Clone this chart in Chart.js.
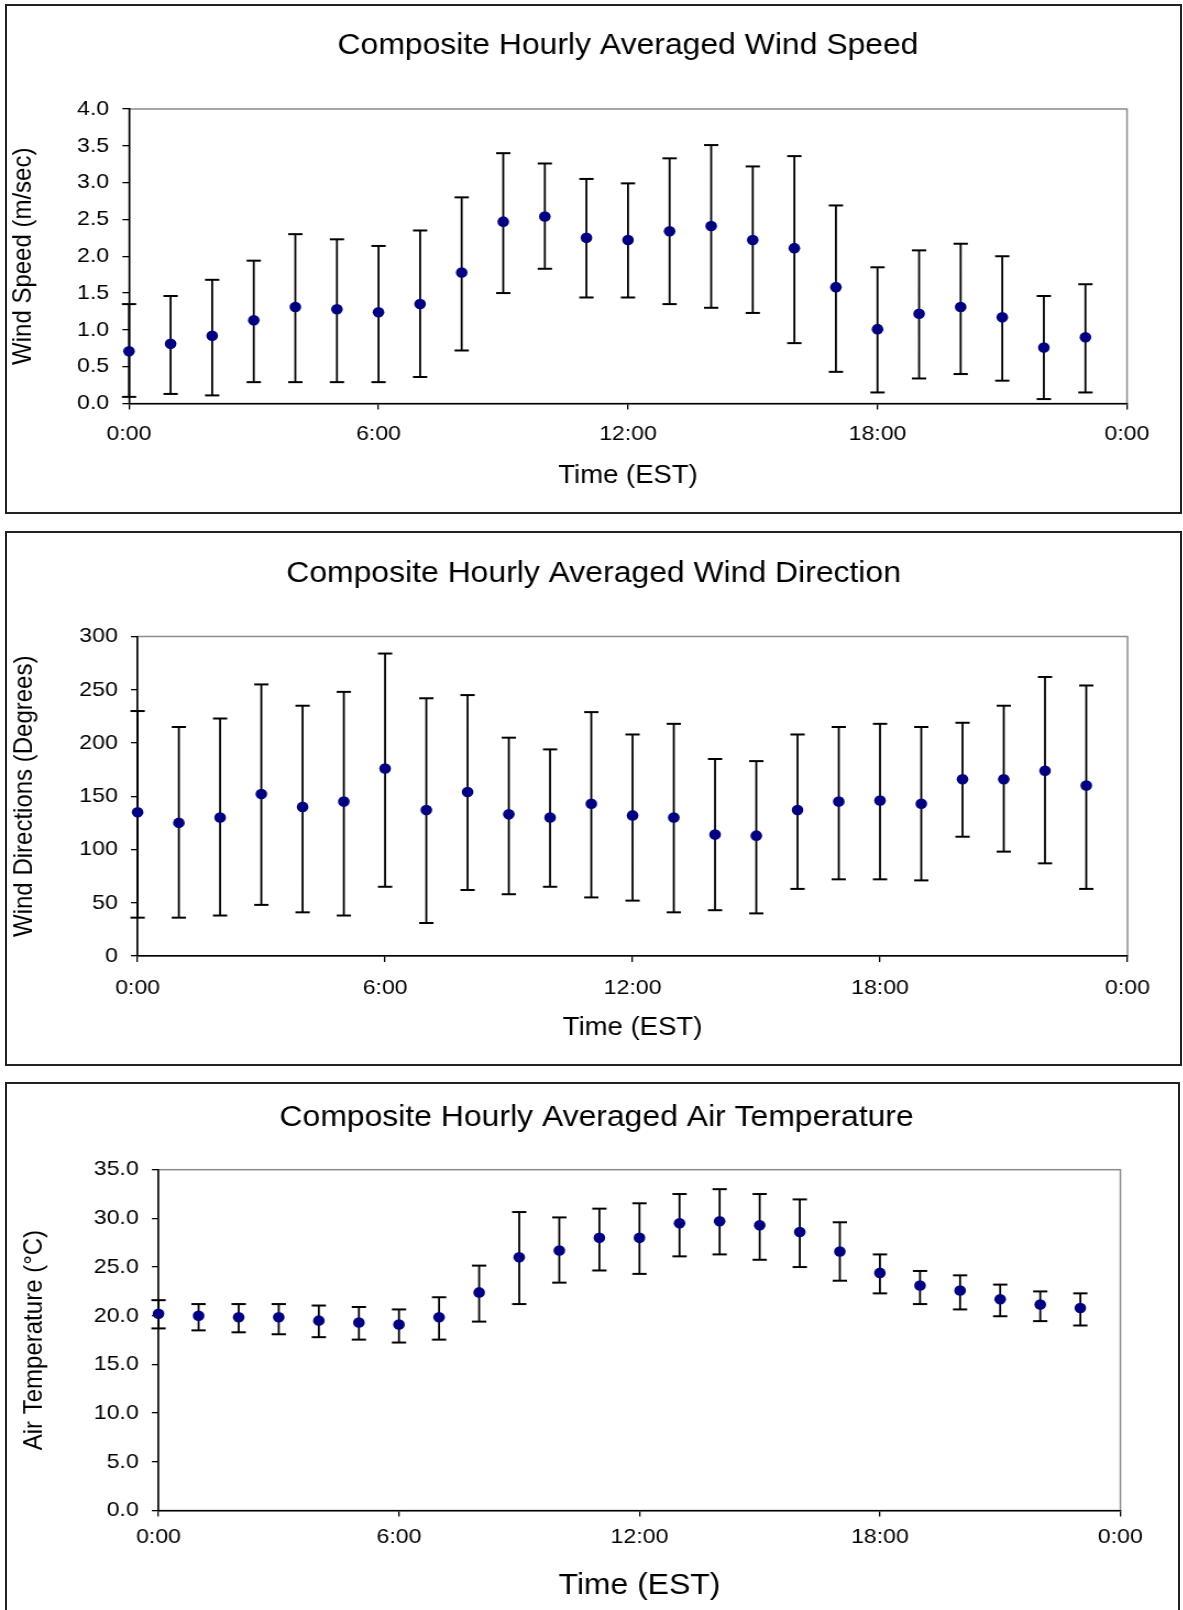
<!DOCTYPE html>
<html>
<head>
<meta charset="utf-8">
<script src="https://cdn.jsdelivr.net/npm/chart.js@4.4.1/dist/chart.umd.min.js"></script>
<style>
  html, body { margin: 0; padding: 0; background: #fff; width: 1183px; height: 1610px; overflow: hidden; position: relative; }
  .box { position: absolute; border: 2px solid #222; box-sizing: border-box; }
  canvas { position: absolute; left: 0; transform-origin: 0 0; }
</style>
</head>
<body>
<div class="box" style="left:5px;top:4px;width:1177px;height:510px"></div>
<div class="box" style="left:5px;top:531px;width:1177px;height:535px"></div>
<div class="box" style="left:5px;top:1082px;width:1175px;height:560px"></div>
<canvas id="c1" width="1076" height="525"></canvas>
<canvas id="c2" width="1076" height="550"></canvas>
<canvas id="c3" width="1076" height="535"></canvas>
<script>
// ---------------- data ----------------
const hours = [0, 1, 2, 3, 4, 5, 6, 7, 8, 9, 10, 11, 12, 13, 14, 15, 16, 17, 18, 19, 20, 21, 22, 23];
const xTickLabels = ['0:00', '6:00', '12:00', '18:00', '0:00'];

const speedMean = [0.71, 0.81, 0.92, 1.13, 1.31, 1.28, 1.24, 1.35, 1.78, 2.47, 2.54, 2.25, 2.22, 2.34, 2.41, 2.22, 2.11, 1.58, 1.01, 1.22, 1.31, 1.17, 0.76, 0.90];
const speedHigh = [1.35, 1.46, 1.68, 1.94, 2.30, 2.23, 2.14, 2.35, 2.80, 3.40, 3.26, 3.05, 2.99, 3.33, 3.51, 3.22, 3.36, 2.69, 1.85, 2.08, 2.17, 2.00, 1.46, 1.62];
const speedLow  = [0.09, 0.13, 0.11, 0.29, 0.29, 0.29, 0.29, 0.36, 0.72, 1.50, 1.83, 1.44, 1.44, 1.35, 1.30, 1.23, 0.82, 0.43, 0.15, 0.34, 0.40, 0.31, 0.06, 0.15];
const speedTickLabels = ['0.0', '0.5', '1.0', '1.5', '2.0', '2.5', '3.0', '3.5', '4.0'];

const dirMean = [135, 125, 130, 152, 140, 145, 176, 137, 154, 133, 130, 143, 132, 130, 114, 113, 137, 145, 146, 143, 166, 166, 174, 160];
const dirHigh = [230, 215, 223, 255, 235, 248, 284, 242, 245, 205, 194, 229, 208, 218, 185, 183, 208, 215, 218, 215, 219, 235, 262, 254];
const dirLow  = [36, 36, 38, 48, 41, 38, 65, 31, 62, 58, 65, 55, 52, 41, 43, 40, 63, 72, 72, 71, 112, 98, 87, 63];
const dirTickLabels = ['0', '50', '100', '150', '200', '250', '300'];

const tempMean = [20.2, 20.0, 19.85, 19.85, 19.5, 19.3, 19.1, 19.85, 22.4, 26.0, 26.7, 28.0, 28.0, 29.5, 29.7, 29.3, 28.6, 26.6, 24.4, 23.1, 22.6, 21.7, 21.15, 20.8];
const tempHigh = [21.6, 21.2, 21.2, 21.2, 21.05, 20.9, 20.65, 21.9, 25.15, 30.65, 30.1, 31.0, 31.55, 32.5, 33.0, 32.5, 31.95, 29.6, 26.3, 24.6, 24.15, 23.2, 22.5, 22.3];
const tempLow  = [18.7, 18.5, 18.3, 18.1, 17.8, 17.55, 17.25, 17.55, 19.4, 21.2, 23.4, 24.65, 24.3, 26.1, 26.3, 25.75, 25.0, 23.6, 22.3, 21.2, 20.65, 19.95, 19.45, 19.0];
const tempTickLabels = ['0.0', '5.0', '10.0', '15.0', '20.0', '25.0', '30.0', '35.0'];

// ---------------- rendering ----------------
const S = 1.1;            // horizontal stretch of the original picture
const LW = 1076;          // logical canvas width
const FONT = '"Liberation Sans", Arial, Helvetica, sans-serif';

const plotFrame = {
  id: 'plotFrame',
  beforeDraw(chart) {
    const { ctx, chartArea: a } = chart;
    ctx.save();
    ctx.strokeStyle = '#8c8c8c';
    ctx.lineWidth = 1.5;
    ctx.strokeRect(a.left, a.top, a.right - a.left, a.bottom - a.top);
    ctx.restore();
  }
};

function pts(vals) { return hours.map((h, i) => ({ x: h, y: vals[i] })); }
function stems(lo, hi) {
  const out = [];
  hours.forEach((h, i) => { out.push({ x: h, y: lo[i] }, { x: h, y: hi[i] }, { x: h, y: null }); });
  return out;
}

function build(id, s) {
  const canvas = document.getElementById(id);
  canvas.style.top = s.top + 'px';
  canvas.style.transform = 'scaleX(' + S + ')';
  const H = canvas.height;
  const padR = LW - s.plotRight / S;
  const padL = s.titleFull ? 2 * s.titleX / S - s.plotRight / S : 8;
  const yW = s.plotLeft / S - padL;
  const yTitlePadTop = s.yTitleX / S - padL - s.yTitleSize * 0.6;
  const tTop = s.titleY - s.top - s.titleSize * 0.6;
  const tBottom = (s.plotTop - s.top) - s.titleSize * 1.2 - tTop;
  const xH = H - (s.plotBottom - s.top);
  const xTitlePadBottom = H - (s.xTitleY - s.top) - s.xTitleSize * 0.6;
  const tickPad = s.xLabelY - s.plotBottom - 6 - s.tickSize * 0.6;

  const axisCommon = {
    grid: { display: true, drawOnChartArea: false, drawTicks: true, tickLength: 6, color: '#000', lineWidth: 1.3 },
    border: { display: true, color: '#000', width: 1.5 }
  };

  new Chart(canvas, {
    type: 'scatter',
    data: {
      datasets: [
        { type: 'scatter', data: pts(s.mean), pointRadius: 5.3, pointBackgroundColor: '#000080', pointBorderColor: '#000080', pointBorderWidth: 0, clip: false },
        { type: 'scatter', data: pts(s.high), pointStyle: 'line', pointRadius: 6.5, pointBorderColor: '#000', borderColor: '#000', pointBorderWidth: 2, clip: false },
        { type: 'scatter', data: pts(s.low), pointStyle: 'line', pointRadius: 6.5, pointBorderColor: '#000', borderColor: '#000', pointBorderWidth: 2, clip: false },
        { type: 'line', data: stems(s.low, s.high), borderColor: '#000', borderWidth: 1.8, pointRadius: 0, spanGaps: false, tension: 0, clip: false }
      ]
    },
    options: {
      responsive: false,
      maintainAspectRatio: false,
      devicePixelRatio: 1,
      animation: false,
      events: [],
      layout: { padding: { left: padL, right: padR, top: 0, bottom: 0 }, autoPadding: false },
      plugins: {
        legend: { display: false },
        tooltip: { enabled: false },
        title: {
          display: true, text: s.title, color: '#000', fullSize: s.titleFull,
          font: { family: FONT, size: s.titleSize, weight: 'normal', lineHeight: 1.2 },
          padding: { top: tTop, bottom: tBottom }
        }
      },
      scales: {
        x: Object.assign({}, axisCommon, {
          type: 'linear', min: 0, max: 24,
          ticks: { stepSize: 6, autoSkip: false, maxRotation: 0, color: '#000', padding: tickPad,
                   font: { family: FONT, size: s.tickSize, lineHeight: 1.2 },
                   callback: (v, i) => xTickLabels[i] },
          title: { display: true, text: 'Time (EST)', color: '#000',
                   font: { family: FONT, size: s.xTitleSize, weight: 'normal', lineHeight: 1.2 },
                   padding: { top: 0, bottom: xTitlePadBottom } },
          afterFit: (sc) => { sc.height = xH; }
        }),
        y: Object.assign({}, axisCommon, {
          type: 'linear', min: s.yMin, max: s.yMax,
          ticks: { stepSize: s.yStep, autoSkip: false, color: '#000', padding: 12,
                   font: { family: FONT, size: s.tickSize, lineHeight: 1.2 },
                   callback: (v, i) => s.yLabels[i] },
          title: { display: true, text: s.yTitle, color: '#000',
                   font: { family: FONT, size: s.yTitleSize, weight: 'normal', lineHeight: 1.2 },
                   padding: { top: yTitlePadTop, bottom: 0 } },
          afterFit: (sc) => { sc.width = yW; }
        })
      }
    },
    plugins: [plotFrame]
  });
}

build('c1', {
  top: 0, plotLeft: 129, plotRight: 1127, plotTop: 109, plotBottom: 403.5,
  titleFull: false, titleX: 617.7, titleY: 46, yTitleX: 24, xTitleY: 476, xLabelY: 434,
  titleSize: 29, xTitleSize: 25, yTitleSize: 24, tickSize: 21,
  title: 'Composite Hourly Averaged Wind Speed', yTitle: 'Wind Speed (m/sec)',
  mean: speedMean, high: speedHigh, low: speedLow,
  yMin: 0, yMax: 4, yStep: 0.5, yLabels: speedTickLabels
});
build('c2', {
  top: 525, plotLeft: 137.6, plotRight: 1127.5, plotTop: 636.5, plotBottom: 956,
  titleFull: true, titleX: 593.6, titleY: 574, yTitleX: 25, xTitleY: 1028, xLabelY: 988,
  titleSize: 29, xTitleSize: 25, yTitleSize: 24, tickSize: 21,
  title: 'Composite Hourly Averaged Wind Direction', yTitle: 'Wind Directions (Degrees)',
  mean: dirMean, high: dirHigh, low: dirLow,
  yMin: 0, yMax: 300, yStep: 50, yLabels: dirTickLabels
});
build('c3', {
  top: 1075, plotLeft: 158.5, plotRight: 1120.4, plotTop: 1169.7, plotBottom: 1510.5,
  titleFull: true, titleX: 596.6, titleY: 1118, yTitleX: 34, xTitleY: 1585.5, xLabelY: 1537,
  titleSize: 29, xTitleSize: 29, yTitleSize: 24, tickSize: 21,
  title: 'Composite Hourly Averaged Air Temperature', yTitle: 'Air Temperature (°C)',
  mean: tempMean, high: tempHigh, low: tempLow,
  yMin: 0, yMax: 35, yStep: 5, yLabels: tempTickLabels
});
</script>
</body>
</html>
